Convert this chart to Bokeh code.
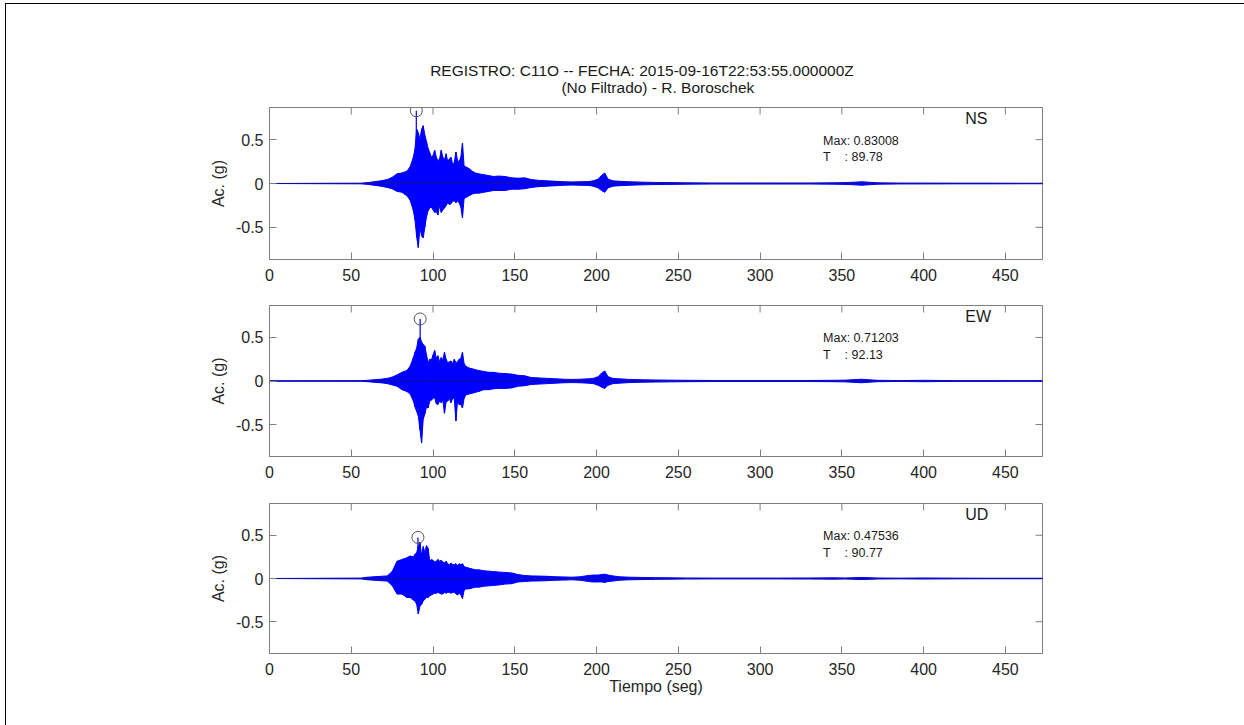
import math
from bokeh.plotting import figure
from bokeh.models import Range1d, FixedTicker, Label
from bokeh.core.properties import value
from bokeh.layouts import column
from bokeh.embed import file_html
from bokeh.resources import INLINE

# ---------------- data ----------------
components = ["NS", "EW", "UD"]
peak_t = [89.78, 92.13, 90.77]
peak_val = [0.83008, 0.71203, 0.47536]
x_ticks = [0, 50, 100, 150, 200, 250, 300, 350, 400, 450]
y_ticks = [-0.5, 0, 0.5]
y_tick_labels = ["-0.5", "0", "0.5"]
title_main = "REGISTRO: C11O -- FECHA: 2015-09-16T22:53:55.000000Z"
title_sub = "(No Filtrado) - R. Boroschek"
x_label = "Tiempo (seg)"
y_label = "Ac. (g)"

# time grid of the envelope readings (s)
t_env = [0, 56, 60, 64, 68, 72, 75, 78, 81, 84,
         86, 88, 89, 90, 91, 92, 93, 94, 95, 96,
         97, 98, 99, 100, 101, 102, 103, 104, 105, 106,
         107, 108, 109, 110, 111, 112, 113, 114, 115, 116,
         117, 118, 119, 120, 122, 124, 126, 128, 131, 134,
         137, 140, 144, 148, 152, 156, 160, 165, 170, 175,
         180, 185, 190, 195, 198, 201, 203, 205, 207, 210,
         214, 220, 228, 236, 245, 255, 270, 290, 310, 330,
         345, 352, 358, 362, 366, 372, 385, 400, 420, 440,
         460, 472.7]

ns_up = [0, 0.004, 0.01, 0.02, 0.03, 0.045, 0.07, 0.11, 0.12, 0.14,
         0.19, 0.30, 0.40, 0.62, 0.58, 0.50, 0.62, 0.66, 0.55, 0.48,
         0.40, 0.35, 0.30, 0.32, 0.38, 0.30, 0.26, 0.28, 0.38, 0.30,
         0.27, 0.34, 0.25, 0.28, 0.30, 0.22, 0.24, 0.36, 0.26, 0.25,
         0.30, 0.46, 0.20, 0.19, 0.17, 0.14, 0.12, 0.11, 0.10, 0.09,
         0.08, 0.085, 0.08, 0.065, 0.06, 0.065, 0.045, 0.035, 0.03, 0.025,
         0.02, 0.018, 0.02, 0.022, 0.03, 0.05, 0.09, 0.12, 0.05, 0.03,
         0.025, 0.02, 0.015, 0.012, 0.01, 0.008, 0.006, 0.006, 0.006, 0.006,
         0.008, 0.01, 0.015, 0.02, 0.015, 0.008, 0.005, 0.005, 0.004, 0.004,
         0.003, 0.003]
ns_lo = [0, -0.004, -0.01, -0.02, -0.03, -0.045, -0.06, -0.09, -0.10, -0.14,
         -0.19, -0.31, -0.42, -0.61, -0.73, -0.50, -0.60, -0.62, -0.50, -0.38,
         -0.31, -0.28, -0.27, -0.30, -0.33, -0.32, -0.36, -0.25, -0.33, -0.30,
         -0.28, -0.25, -0.22, -0.24, -0.23, -0.20, -0.20, -0.22, -0.20, -0.22,
         -0.27, -0.39, -0.17, -0.16, -0.14, -0.12, -0.11, -0.11, -0.10, -0.09,
         -0.08, -0.08, -0.08, -0.065, -0.065, -0.06, -0.045, -0.035, -0.03, -0.025,
         -0.02, -0.018, -0.02, -0.022, -0.03, -0.05, -0.08, -0.10, -0.05, -0.03,
         -0.025, -0.02, -0.015, -0.012, -0.01, -0.008, -0.006, -0.006, -0.006, -0.006,
         -0.008, -0.01, -0.015, -0.02, -0.015, -0.008, -0.005, -0.005, -0.004, -0.004,
         -0.003, -0.003]

ew_up = [0, 0.003, 0.008, 0.015, 0.02, 0.03, 0.045, 0.07, 0.10, 0.12,
         0.17, 0.27, 0.33, 0.38, 0.48, 0.50, 0.45, 0.42, 0.40, 0.30,
         0.21, 0.25, 0.24, 0.30, 0.35, 0.26, 0.29, 0.22, 0.27, 0.24,
         0.33, 0.25, 0.21, 0.22, 0.23, 0.20, 0.25, 0.21, 0.22, 0.25,
         0.26, 0.33, 0.20, 0.17, 0.15, 0.14, 0.13, 0.12, 0.11, 0.10,
         0.10, 0.09, 0.085, 0.08, 0.065, 0.06, 0.04, 0.035, 0.03, 0.025,
         0.02, 0.018, 0.02, 0.025, 0.03, 0.05, 0.09, 0.115, 0.05, 0.03,
         0.025, 0.018, 0.014, 0.012, 0.01, 0.008, 0.006, 0.006, 0.006, 0.006,
         0.008, 0.01, 0.016, 0.02, 0.015, 0.008, 0.005, 0.008, 0.004, 0.004,
         0.003, 0.003]
ew_lo = [0, -0.003, -0.008, -0.015, -0.02, -0.03, -0.045, -0.06, -0.10, -0.12,
         -0.15, -0.23, -0.30, -0.35, -0.40, -0.56, -0.71, -0.44, -0.38, -0.30,
         -0.31, -0.23, -0.22, -0.20, -0.19, -0.26, -0.27, -0.23, -0.25, -0.22,
         -0.37, -0.24, -0.23, -0.20, -0.25, -0.20, -0.20, -0.46, -0.23, -0.27,
         -0.27, -0.31, -0.20, -0.16, -0.15, -0.14, -0.13, -0.12, -0.10, -0.10,
         -0.09, -0.085, -0.085, -0.08, -0.06, -0.055, -0.04, -0.035, -0.03, -0.025,
         -0.02, -0.018, -0.02, -0.025, -0.03, -0.05, -0.07, -0.085, -0.05, -0.03,
         -0.025, -0.018, -0.014, -0.012, -0.01, -0.008, -0.006, -0.006, -0.006, -0.006,
         -0.008, -0.01, -0.016, -0.02, -0.015, -0.008, -0.005, -0.008, -0.004, -0.004,
         -0.003, -0.003]

ud_up = [0, 0.005, 0.015, 0.02, 0.025, 0.03, 0.08, 0.20, 0.22, 0.24,
         0.26, 0.25, 0.28, 0.30, 0.37, 0.42, 0.26, 0.37, 0.30, 0.38,
         0.35, 0.20, 0.22, 0.21, 0.19, 0.20, 0.22, 0.20, 0.21, 0.19,
         0.18, 0.20, 0.17, 0.16, 0.18, 0.16, 0.16, 0.17, 0.15, 0.17,
         0.16, 0.17, 0.14, 0.13, 0.12, 0.11, 0.10, 0.10, 0.09, 0.085,
         0.08, 0.075, 0.07, 0.065, 0.045, 0.035, 0.03, 0.028, 0.025, 0.02,
         0.018, 0.015, 0.02, 0.035, 0.04, 0.04, 0.045, 0.05, 0.04, 0.03,
         0.02, 0.015, 0.012, 0.01, 0.008, 0.006, 0.005, 0.005, 0.005, 0.006,
         0.008, 0.006, 0.01, 0.012, 0.01, 0.006, 0.004, 0.006, 0.004, 0.003,
         0.003, 0.003]
ud_lo = [0, -0.005, -0.015, -0.02, -0.025, -0.03, -0.08, -0.18, -0.18, -0.22,
         -0.22, -0.25, -0.26, -0.30, -0.41, -0.32, -0.30, -0.26, -0.24, -0.22,
         -0.22, -0.20, -0.19, -0.18, -0.17, -0.17, -0.16, -0.17, -0.18, -0.18,
         -0.16, -0.17, -0.16, -0.16, -0.17, -0.16, -0.16, -0.18, -0.19, -0.17,
         -0.19, -0.23, -0.14, -0.12, -0.12, -0.11, -0.10, -0.10, -0.09, -0.085,
         -0.08, -0.075, -0.065, -0.06, -0.04, -0.035, -0.03, -0.028, -0.025, -0.02,
         -0.018, -0.015, -0.02, -0.035, -0.04, -0.04, -0.04, -0.045, -0.035, -0.03,
         -0.02, -0.015, -0.012, -0.01, -0.008, -0.006, -0.005, -0.005, -0.005, -0.006,
         -0.008, -0.006, -0.01, -0.012, -0.01, -0.006, -0.004, -0.006, -0.004, -0.003,
         -0.003, -0.003]

env_up = [ns_up, ew_up, ud_up]
env_lo = [ns_lo, ew_lo, ud_lo]
for a in env_up + env_lo:
    assert len(a) == len(t_env), len(a)

# ---------------- styling ----------------
FONT = "Liberation Sans"
BLUE = "#0000FF"
AXIS_GRAY = "#7f7f7f"
TEXT = "#262626"
X_END = 472.7
Y_LIM = 0.867
NBSP = "\u00a0"

W = 1238
LEFT, RIGHT = 263, 202
TITLE_H = 100
# (height, top border, bottom border) per panel
geom = [(186, 3, 31), (195, 15, 29), (240, 18, 72)]


def style_axis(ax):
    ax.axis_line_color = AXIS_GRAY
    ax.major_tick_line_color = AXIS_GRAY
    ax.major_tick_in = 7
    ax.major_tick_out = 0
    ax.minor_tick_line_color = None
    ax.major_label_text_font = FONT
    ax.major_label_text_color = TEXT
    ax.major_label_text_font_size = "16px"


# ---- title strip (pixel-like coordinates, y grows downwards) ----
pt = figure(width=W, height=TITLE_H, output_backend="svg", toolbar_location=None,
            x_range=Range1d(0, W), y_range=Range1d(TITLE_H, 0),
            x_axis_type=None, y_axis_type=None,
            min_border=0, min_border_left=0, min_border_right=0,
            min_border_top=0, min_border_bottom=0,
            background_fill_color="white", border_fill_color="white")
pt.grid.visible = False
pt.outline_line_color = None
pt.text(x=[596.5, 622.0], y=[66, 83], text=[title_main, title_sub],
        text_font=value(FONT), text_font_size=value("15.5px"),
        text_color="#1a1a1a", text_align="center", text_baseline="middle")

figs = [pt]
for i, comp in enumerate(components):
    h, top, bottom = geom[i]
    p = figure(width=W, height=h, output_backend="svg", toolbar_location=None,
               x_range=Range1d(0, X_END), y_range=Range1d(-Y_LIM, Y_LIM),
               min_border_left=LEFT, min_border_right=RIGHT,
               min_border_top=top, min_border_bottom=bottom,
               background_fill_color="white", border_fill_color="white")
    p.grid.visible = False
    p.outline_line_color = AXIS_GRAY

    xax = p.below[0]
    yax = p.left[0]
    xax.ticker = FixedTicker(ticks=x_ticks)
    style_axis(xax)
    xax.major_label_standoff = 9
    yax.ticker = FixedTicker(ticks=y_ticks)
    yax.major_label_overrides = {v: s for v, s in zip(y_ticks, y_tick_labels)}
    style_axis(yax)
    yax.major_label_standoff = 6
    yax.axis_label = y_label
    yax.axis_label_text_font = FONT
    yax.axis_label_text_font_size = "16px"
    yax.axis_label_text_font_style = "normal"
    yax.axis_label_text_color = TEXT
    yax.axis_label_standoff = 6

    if i == len(components) - 1:
        xax.axis_label = x_label
        xax.axis_label_text_font = FONT
        xax.axis_label_text_font_size = "16px"
        xax.axis_label_text_font_style = "normal"
        xax.axis_label_text_color = TEXT
        xax.axis_label_standoff = 0

    # inward ticks on the top and right edges of the box
    p.ray(x=x_ticks, y=[Y_LIM] * len(x_ticks), length=7, length_units="screen",
          angle=-math.pi / 2, line_color=AXIS_GRAY, line_width=1)
    p.ray(x=[X_END] * len(y_ticks), y=y_ticks, length=7, length_units="screen",
          angle=math.pi, line_color=AXIS_GRAY, line_width=1)

    up = env_up[i]
    lo = env_lo[i]
    # waveform envelope
    p.varea(x=t_env, y1=lo, y2=up, fill_color=BLUE, fill_alpha=1.0)
    p.segment(x0=t_env, y0=lo, x1=t_env, y1=up, line_color=BLUE, line_width=1.2)
    p.line(t_env, up, line_color=BLUE, line_width=1)
    p.line(t_env, lo, line_color=BLUE, line_width=1)
    p.line([0, X_END], [0, 0], line_color="#1010a0", line_width=1)
    # peak
    p.segment(x0=[peak_t[i]], y0=[0], x1=[peak_t[i]], y1=[peak_val[i]],
              line_color=BLUE, line_width=1.2)
    p.scatter(x=[peak_t[i]], y=[peak_val[i]], marker="circle", size=12,
              fill_color=None, line_color="#555555", line_width=1)

    # annotations
    p.add_layout(Label(x=338.5, y=0.49, text="Max: %.5f" % peak_val[i],
                       text_font=FONT, text_font_size="12.5px", text_color="#1a1a1a",
                       text_baseline="middle", text_align="left"))
    p.add_layout(Label(x=338.5, y=0.30,
                       text="T" + NBSP * 4 + ":" + NBSP + "%.2f" % peak_t[i],
                       text_font=FONT, text_font_size="12.5px", text_color="#1a1a1a",
                       text_baseline="middle", text_align="left"))
    p.add_layout(Label(x=425.5, y=0.74, text=comp,
                       text_font=FONT, text_font_size="16px", text_color="#1a1a1a",
                       text_baseline="middle", text_align="left"))
    figs.append(p)

layout = column(*figs, spacing=0,
                styles={"margin-left": "5px", "margin-top": "3px",
                        "border-left": "1px solid #000", "border-top": "1px solid #000"})

html = file_html(layout, INLINE)
open("out.html", "w").write(html)
